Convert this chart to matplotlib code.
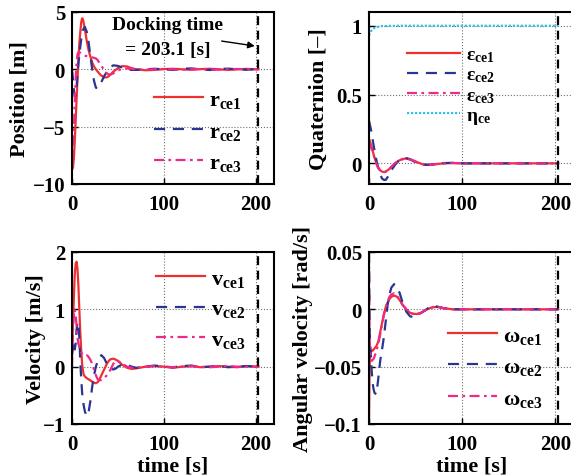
import numpy as np
import matplotlib
matplotlib.use('Agg')
import matplotlib.pyplot as plt

plt.rcParams['font.family'] = 'Liberation Serif'
plt.rcParams['font.weight'] = 'bold'
plt.rcParams['mathtext.fontset'] = 'custom'
plt.rcParams['mathtext.rm'] = 'Liberation Serif:bold'
plt.rcParams['mathtext.it'] = 'Liberation Serif:bold'
plt.rcParams['mathtext.bf'] = 'Liberation Serif:bold'

t_dock = 203.1

# position [m]
t_pos = [0, 1, 2, 3, 4, 5, 6, 7, 8, 10, 11, 12, 14, 16, 18, 20, 22, 24, 26, 28, 30, 32, 35, 38,
         40, 42, 45, 50, 55, 60, 65, 70, 80, 90, 100, 110, 120, 130, 140, 150, 160, 170, 180, 190, 203.1]
r_ce1 = [-8.7, -8.6, -7.8, -6.3, -4.5, -2.6, -0.8, 0.9, 2.3, 4.1, 4.45, 4.35, 3.5, 2.5, 1.7, 1.1, 0.6, 0.25, 0.0, -0.2, -0.4, -0.55, -0.7, -0.7,
         -0.6, -0.45, -0.2, 0.1, 0.28, 0.25, 0.1, 0.0, -0.08, -0.05, 0.02, 0.05, 0.0, -0.04, 0.02, 0.05, 0.0, -0.05, 0.0, 0.04, 0.0]
r_ce2 = [0.0, -0.8, -1.8, -2.4, -2.3, -1.5, -0.5, 0.5, 1.3, 2.6, 3.1, 3.45, 3.7, 3.3, 2.4, 1.2, 0.0, -1.0, -1.6, -1.65, -1.4, -1.1, -0.6, -0.2,
         0.05, 0.2, 0.35, 0.3, 0.15, 0.0, -0.05, -0.05, 0.0, 0.05, 0.0, -0.05, 0.05, 0.08, 0.0, -0.06, 0.03, 0.06, 0.0, -0.04, 0.02]
r_ce3 = [-8.5, -7.5, -5.5, -3.0, -0.8, 0.6, 1.3, 1.5, 1.5, 1.4, 1.35, 1.3, 1.2, 1.15, 1.1, 1.08, 1.05, 1.0, 0.95, 0.8, 0.55, 0.3, -0.05, -0.35,
         -0.45, -0.45, -0.35, -0.1, 0.05, 0.08, 0.05, 0.0, -0.03, 0.0, 0.03, 0.0, -0.03, 0.0, 0.03, 0.0, -0.03, 0.0, 0.03, 0.0, 0.0]

# quaternion [-]
t_q = [0, 2, 4, 6, 8, 10, 12, 14, 16, 18, 20, 22, 25, 28, 32, 36, 40, 44, 48, 52, 56, 60, 64, 68, 72,
       80, 90, 100, 120, 140, 160, 180, 203.1]
eps_ce1 = [0.18, 0.14, 0.09, 0.04, 0.0, -0.03, -0.05, -0.06, -0.063, -0.06, -0.05, -0.04, -0.02, 0.0, 0.02, 0.032, 0.035, 0.03, 0.02, 0.008,
           -0.003, -0.01, -0.012, -0.01, -0.006, 0.0, 0.003, 0.0, 0.0, 0.0, 0.0, 0.0, 0.0]
eps_ce2 = [0.31, 0.25, 0.17, 0.09, 0.02, -0.04, -0.08, -0.11, -0.12, -0.12, -0.1, -0.07, -0.04, -0.01, 0.02, 0.035, 0.038, 0.03, 0.015, 0.003,
           -0.005, -0.01, -0.01, -0.008, -0.004, 0.002, 0.004, 0.0, 0.0, 0.0, 0.0, 0.0, 0.0]
eps_ce3 = [0.16, 0.12, 0.08, 0.035, -0.005, -0.035, -0.055, -0.065, -0.065, -0.06, -0.05, -0.038, -0.018, 0.002, 0.02, 0.03, 0.033, 0.028, 0.018, 0.006,
           -0.004, -0.01, -0.011, -0.009, -0.005, 0.0, 0.002, 0.0, 0.0, 0.0, 0.0, 0.0, 0.0]
eta_ce = [0.93, 0.96, 0.975, 0.985, 0.99, 0.993, 0.996, 0.998, 0.998, 0.998, 0.998, 0.999, 0.999, 0.999, 1.0, 1.0, 1.0, 1.0, 1.0, 1.0,
          1.0, 1.0, 1.0, 1.0, 1.0, 1.0, 1.0, 1.0, 1.0, 1.0, 1.0, 1.0, 1.0]

# velocity [m/s]
t_v = [0, 1, 2, 3, 4, 5, 6, 7, 8, 9, 10, 11, 12, 13, 14, 16, 17, 18, 20, 22, 24, 26, 28, 30, 32, 35, 38, 40, 42, 45, 48, 50,
       55, 60, 65, 70, 80, 90, 100, 110, 120, 130, 140, 150, 160, 170, 180, 190, 203.1]
v_ce1 = [0.3, 0.7, 1.2, 1.6, 1.8, 1.83, 1.7, 1.4, 1.0, 0.6, 0.3, 0.05, -0.08, -0.15, -0.17, -0.2, -0.21, -0.22, -0.24, -0.26, -0.28, -0.29,
         -0.27, -0.22, -0.15, -0.05, 0.05, 0.1, 0.13, 0.14, 0.12, 0.1, 0.03, -0.02, -0.04, -0.03, 0.0, 0.01, 0.0, -0.02, 0.0, 0.01, -0.01,
         0.0, 0.01, 0.0, -0.01, 0.01, 0.0]
v_ce2 = [0.2, 0.35, 0.45, 0.3, 0.4, 0.65, 0.78, 0.75, 0.5, 0.1, -0.2, -0.45, -0.6, -0.7, -0.78, -0.86, -0.85, -0.8, -0.6, -0.35, -0.15, 0.0,
         0.1, 0.17, 0.2, 0.15, 0.05, 0.0, -0.03, -0.05, -0.03, 0.0, 0.04, 0.03, 0.0, -0.02, 0.0, 0.02, 0.0, -0.01, 0.01, 0.02, -0.01,
         0.0, 0.01, -0.01, 0.0, 0.01, 0.0]
v_ce3 = [0.0, 0.6, 0.9, 1.0, 0.9, 0.7, 0.5, 0.4, 0.35, 0.3, 0.25, 0.22, 0.2, 0.2, 0.2, 0.2, 0.19, 0.17, 0.12, 0.05, -0.05, -0.15,
         -0.22, -0.24, -0.23, -0.2, -0.15, -0.1, -0.05, 0.05, 0.1, 0.1, 0.05, 0.0, -0.02, -0.02, 0.0, 0.01, 0.0, -0.01, 0.0, 0.01, 0.0,
         -0.01, 0.0, 0.01, 0.0, 0.0, 0.0]

# angular velocity [rad/s]
t_w = [0, 0.5, 1, 2, 3, 4, 5, 6, 8, 10, 12, 14, 16, 18, 20, 22, 24, 27, 30, 33, 36, 40, 44, 48, 52, 56, 60, 65, 70, 75,
       80, 90, 100, 120, 140, 160, 180, 203.1]
w_ce1 = [-0.1, -0.06, -0.04, -0.037, -0.036, -0.036, -0.035, -0.034, -0.032, -0.028, -0.02, -0.012, -0.004, 0.002, 0.006, 0.009, 0.011,
         0.012, 0.011, 0.008, 0.004, 0.0, -0.003, -0.004, -0.004, -0.003, -0.001, 0.001, 0.002, 0.002, 0.001, 0.0, 0.0, 0.0, 0.0, 0.0, 0.0, 0.0]
w_ce2 = [0.05, 0.0, -0.025, -0.04, -0.055, -0.065, -0.07, -0.073, -0.074, -0.06, -0.045, -0.035, -0.024, -0.01, 0.004, 0.013, 0.019,
         0.022, 0.019, 0.014, 0.006, -0.002, -0.006, -0.007, -0.005, -0.003, -0.001, 0.002, 0.003, 0.002, 0.001, 0.0, 0.0, 0.0, 0.0, 0.0, 0.0, 0.0]
w_ce3 = [0.05, -0.01, -0.035, -0.044, -0.045, -0.044, -0.043, -0.041, -0.036, -0.03, -0.022, -0.013, -0.005, 0.002, 0.007, 0.011, 0.013,
         0.014, 0.012, 0.008, 0.004, 0.0, -0.003, -0.004, -0.004, -0.003, -0.001, 0.001, 0.002, 0.002, 0.001, 0.0, 0.0, 0.0, 0.0, 0.0, 0.0, 0.0]

red = '#f03030'
blue = '#2a3592'
pink = '#f0288c'
cyan = '#30c0e8'
sty1 = dict(color=red, lw=1.6, ls='-')
sty2 = dict(color=blue, lw=1.6, ls=(0, (5, 3.5)))
sty3 = dict(color=pink, lw=1.6, ls=(0, (4.5, 2, 1.2, 2)))
sty4 = dict(color=cyan, lw=1.6, ls=(0, (1, 0.8)))

fig = plt.figure(figsize=(5.71, 4.77), dpi=100)
W, H = 571.0, 477.0
def add_ax(l, t, r, b):
    return fig.add_axes([l / W, 1 - b / H, (r - l) / W, (b - t) / H])

ax_p = add_ax(72, 13, 274, 185)
ax_q = add_ax(369, 13, 574, 185)
ax_v = add_ax(72, 253, 274, 425)
ax_w = add_ax(369, 253, 574, 425)

def style(ax, yt, ylim, ylabel, lpad=2):
    ax.set_xlim(0, 220)
    ax.set_ylim(*ylim)
    ax.set_xticks([0, 100, 200])
    ax.set_yticks(yt)
    ax.grid(True, ls=':', color='#707070', lw=0.8)
    ax.tick_params(direction='in', length=4, width=1, labelsize=15, pad=5)
    ax.tick_params(axis='x', pad=7)
    for s in ax.spines.values():
        s.set_linewidth(1.5)
    ax.set_ylabel(ylabel, fontsize=16, fontweight='bold', labelpad=lpad)
    ax.axvline(t_dock, color='k', lw=1.6, ls=(0, (4, 2.5)))

leg_kw = dict(loc='upper left', frameon=False, handletextpad=0.3, borderpad=0)

ax_p.plot(t_pos, r_ce1, label=r'$\mathrm{r}_{\mathrm{ce1}}$', **sty1)
ax_p.plot(t_pos, r_ce2, label=r'$\mathrm{r}_{\mathrm{ce2}}$', **sty2)
ax_p.plot(t_pos, r_ce3, label=r'$\mathrm{r}_{\mathrm{ce3}}$', **sty3)
style(ax_p, [-10, -5, 0, 5], (-10, 5), 'Position [m]')
ax_p.text(104, 2.8, 'Docking time\n= 203.1 [s]', ha='center', va='center', fontsize=14,
          fontweight='bold', linespacing=1.6)
ax_p.annotate('', xy=(t_dock - 1, 2.0), xytext=(160, 2.5),
              arrowprops=dict(arrowstyle='-|>', color='k', lw=1, mutation_scale=10))
ax_p.legend(bbox_to_anchor=(0.35, 0.615), fontsize=16, handlelength=2.2, labelspacing=0.5, **leg_kw)

ax_q.plot(t_q, eps_ce1, label=r'$\mathrm{\epsilon}_{\mathrm{ce1}}$', **sty1)
ax_q.plot(t_q, eps_ce2, label=r'$\mathrm{\epsilon}_{\mathrm{ce2}}$', **sty2)
ax_q.plot(t_q, eps_ce3, label=r'$\mathrm{\epsilon}_{\mathrm{ce3}}$', **sty3)
ax_q.plot(t_q, eta_ce, label=r'$\mathrm{\eta}_{\mathrm{ce}}$', **sty4)
style(ax_q, [0, 0.5, 1], (-0.15, 1.1), 'Quaternion [\u2013]', lpad=5)
ax_q.set_yticklabels(['0', '0.5', '1'])
ax_q.legend(bbox_to_anchor=(0.14, 0.86), fontsize=14, handlelength=2.7, labelspacing=0.1, **leg_kw)

ax_v.plot(t_v, v_ce1, label=r'$\mathrm{v}_{\mathrm{ce1}}$', **sty1)
ax_v.plot(t_v, v_ce2, label=r'$\mathrm{v}_{\mathrm{ce2}}$', **sty2)
ax_v.plot(t_v, v_ce3, label=r'$\mathrm{v}_{\mathrm{ce3}}$', **sty3)
style(ax_v, [-1, 0, 1, 2], (-1, 2), 'Velocity [m/s]', lpad=-2)
ax_v.set_xlabel('time [s]', fontsize=16, fontweight='bold', labelpad=1)
ax_v.legend(bbox_to_anchor=(0.36, 0.97), fontsize=16, handlelength=2.2, labelspacing=0.45, **leg_kw)

ax_w.plot(t_w, w_ce1, label=r'$\mathrm{\omega}_{\mathrm{ce1}}$', **sty1)
ax_w.plot(t_w, w_ce2, label=r'$\mathrm{\omega}_{\mathrm{ce2}}$', **sty2)
ax_w.plot(t_w, w_ce3, label=r'$\mathrm{\omega}_{\mathrm{ce3}}$', **sty3)
style(ax_w, [-0.1, -0.05, 0, 0.05], (-0.1, 0.05), 'Angular velocity [rad/s]', lpad=1)
ax_w.set_yticklabels(['\u22120.1', '\u22120.05', '0', '0.05'])
ax_w.set_xlabel('time [s]', fontsize=16, fontweight='bold', labelpad=1)
ax_w.legend(bbox_to_anchor=(0.33, 0.64), fontsize=16, handlelength=2.2, labelspacing=0.5, **leg_kw)

fig.savefig('out.png', dpi=100)
